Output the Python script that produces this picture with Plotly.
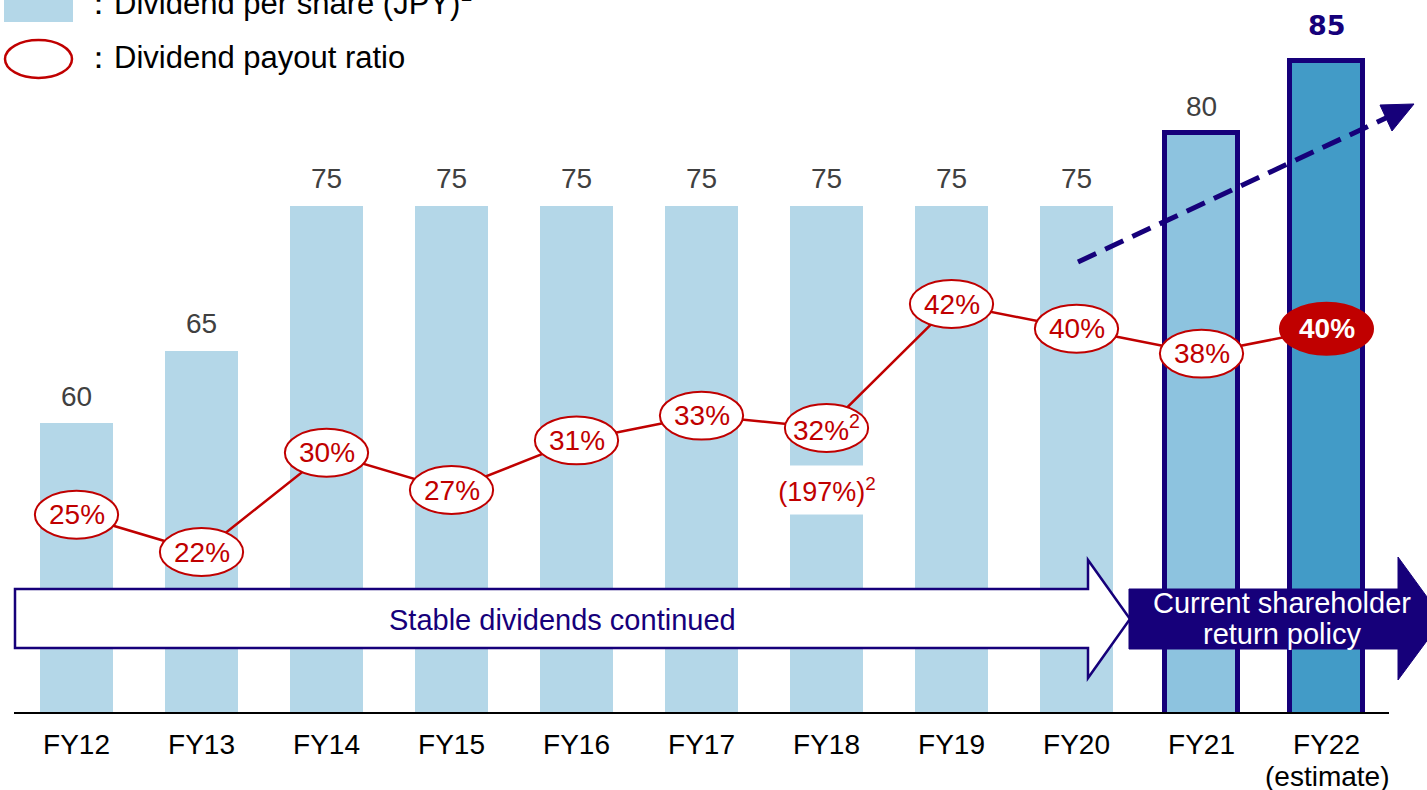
import plotly.graph_objects as go

# ---------------- data ----------------
categories = ["FY12", "FY13", "FY14", "FY15", "FY16", "FY17", "FY18", "FY19", "FY20", "FY21", "FY22"]
tick_labels = ["FY12", "FY13", "FY14", "FY15", "FY16", "FY17", "FY18", "FY19", "FY20", "FY21", "FY22"]
estimate_note = "(estimate)"
dividend_jpy = [60, 65, 75, 75, 75, 75, 75, 75, 75, 80, 85]
payout_pct = [25, 22, 30, 27, 31, 33, 32, 42, 40, 38, 40]
payout_labels = ["25%", "22%", "30%", "27%", "31%", "33%", "32%<sup>2</sup>", "42%", "40%", "38%", "40%"]
fy18_alt_label = "(197%)<sup>2</sup>"
legend_labels = ["\uff1aDividend per share (JPY)<sup>1</sup>", "\uff1aDividend payout ratio"]
arrow_labels = ["Stable dividends continued", "Current shareholder", "return policy"]

# ---------------- styles ----------------
W, H = 1427, 790
PLOT_H = 713
FONT = "Liberation Sans, Arial, sans-serif"
NAVY = "#16007A"
RED = "#C00000"
BAR_LIGHT = "#B4D7E8"
BAR_21 = "#8DC3DF"
BAR_22 = "#429BC7"

n = len(categories)
xs = list(range(n))


def px(x):
    return x / W


def py(y):
    return (PLOT_H - y) / PLOT_H


bar_colors = [BAR_LIGHT] * (n - 2) + [BAR_21, BAR_22]
bar_line_w = [0] * (n - 2) + [5, 5]

fig = go.Figure()
fig.add_trace(go.Bar(
    x=xs, y=dividend_jpy, width=0.59,
    marker=dict(color=bar_colors, line=dict(color=NAVY, width=bar_line_w)),
    hoverinfo="skip", showlegend=False,
))
fig.add_trace(go.Scatter(
    x=xs, y=payout_pct, yaxis="y2", mode="lines",
    line=dict(color=RED, width=2.5), hoverinfo="skip", showlegend=False,
))

shapes = []
annotations = []

# baseline
shapes.append(dict(type="line", xref="x", yref="paper", x0=-0.5, x1=n - 0.5, y0=0, y1=0,
                   line=dict(color="black", width=2), layer="above"))

# FY18 gap in bar for alternate payout label
annotations.append(dict(x=6, y=55.4, xref="x", yref="y", text=fy18_alt_label, showarrow=False,
                        xanchor="center", yanchor="middle",
                        font=dict(family=FONT, size=27, color=RED), bgcolor="white",
                        height=46, width=112, valign="middle"))


# big arrows
def path(points):
    return "M " + " L ".join(f"{px(a):.5f},{py(b):.5f}" for a, b in points) + " Z"


white_arrow = [(15, 589), (1088, 589), (1088, 560), (1130, 619), (1088, 678), (1088, 648), (15, 648)]
navy_arrow = [(1129, 589), (1398, 589), (1398, 557), (1443, 619), (1398, 680), (1398, 649), (1129, 649)]
shapes.append(dict(type="path", xref="paper", yref="paper", path=path(white_arrow),
                   fillcolor="white", line=dict(color=NAVY, width=2.5), layer="above"))
shapes.append(dict(type="path", xref="paper", yref="paper", path=path(navy_arrow),
                   fillcolor=NAVY, line=dict(color=NAVY, width=1), layer="above"))


def paper_text(x, y, text, size, color, xanchor="center", bold=False):
    annotations.append(dict(x=px(x), y=py(y), xref="paper", yref="paper",
                            text=f"<b>{text}</b>" if bold else text, showarrow=False,
                            xanchor=xanchor, yanchor="middle",
                            font=dict(family=FONT, size=size, color=color)))


paper_text(562, 620, arrow_labels[0], 29, NAVY)
paper_text(1282, 603, arrow_labels[1], 29, "white")
paper_text(1282, 634, arrow_labels[2], 29, "white")

# "(estimate)" under the last category tick label
annotations.append(dict(x=n - 1, y=py(776), xref="x", yref="paper", text=estimate_note, showarrow=False,
                        xanchor="center", yanchor="middle",
                        font=dict(family=FONT, size=28, color="black")))

# dashed trend arrow
shapes.append(dict(type="line", xref="paper", yref="paper", x0=px(1078), y0=py(262),
                   x1=px(1388), y1=py(117), line=dict(color=NAVY, width=5, dash="20px,10px"),
                   layer="above"))
shapes.append(dict(type="path", xref="paper", yref="paper",
                   path=path([(1414, 104), (1392, 131), (1380, 105)]),
                   fillcolor=NAVY, line=dict(color=NAVY, width=1), layer="above"))

# payout ellipses + labels
for i, (p, lab) in enumerate(zip(payout_pct, payout_labels)):
    last = i == n - 1
    hx = 0.372 if last else 0.333
    hy = 2.1 if last else 1.93
    shapes.append(dict(type="circle", xref="x", yref="y2", x0=i - hx, x1=i + hx, y0=p - hy, y1=p + hy,
                       fillcolor=RED if last else "white", line=dict(color=RED, width=2),
                       layer="above"))
    annotations.append(dict(x=i, y=p, xref="x", yref="y2", text=f"<b>{lab}</b>" if last else lab,
                            showarrow=False, xanchor="center", yanchor="middle",
                            font=dict(family=FONT, size=28, color="white" if last else RED)))

# dividend value labels
for i, v in enumerate(dividend_jpy):
    last = i == n - 1
    annotations.append(dict(x=i, y=v, xref="x", yref="y", text=f"<b>{v}</b>" if last else str(v),
                            showarrow=False, yshift=35 if last else 27,
                            xanchor="center", yanchor="middle",
                            font=dict(family="DejaVu Sans, Verdana" if last else FONT, size=27 if last else 28,
                                      color=NAVY if last else "#404040")))

# legend
shapes.append(dict(type="rect", xref="paper", yref="paper", x0=px(4), x1=px(73), y0=py(22), y1=py(-12),
                   fillcolor=BAR_LIGHT, line=dict(width=0), layer="above"))
shapes.append(dict(type="circle", xref="paper", yref="paper", x0=px(5), x1=px(72), y0=py(78), y1=py(40),
                   fillcolor="white", line=dict(color=RED, width=2.5), layer="above"))
paper_text(81, 1, legend_labels[0], 31, "black", xanchor="left")
paper_text(81, 57, legend_labels[1], 31, "black", xanchor="left")

fig.update_layout(
    template="none",
    width=W, height=H,
    margin=dict(l=0, r=0, t=0, b=H - PLOT_H, pad=0, autoexpand=False),
    paper_bgcolor="white", plot_bgcolor="white",
    xaxis=dict(range=[-76.5 / 125, (W - 76.5) / 125], tickmode="array", tickvals=xs, ticktext=tick_labels,
               showgrid=False, zeroline=False, showline=False, ticks="", ticklabelstandoff=12,
               automargin=False,
               tickfont=dict(family=FONT, size=28, color="black")),
    yaxis=dict(range=[40, 40 + PLOT_H / 14.5], visible=False, showgrid=False, automargin=False),
    yaxis2=dict(range=[22 - (PLOT_H - 552) / 12.4, 22 + 552 / 12.4], overlaying="y", visible=False,
                showgrid=False, automargin=False),
    shapes=shapes, annotations=annotations,
    showlegend=False, bargap=0,
)

fig.write_html("out.html", config={"displayModeBar": False},
               post_script="document.body.style.margin='0';document.body.style.overflow='hidden';")
